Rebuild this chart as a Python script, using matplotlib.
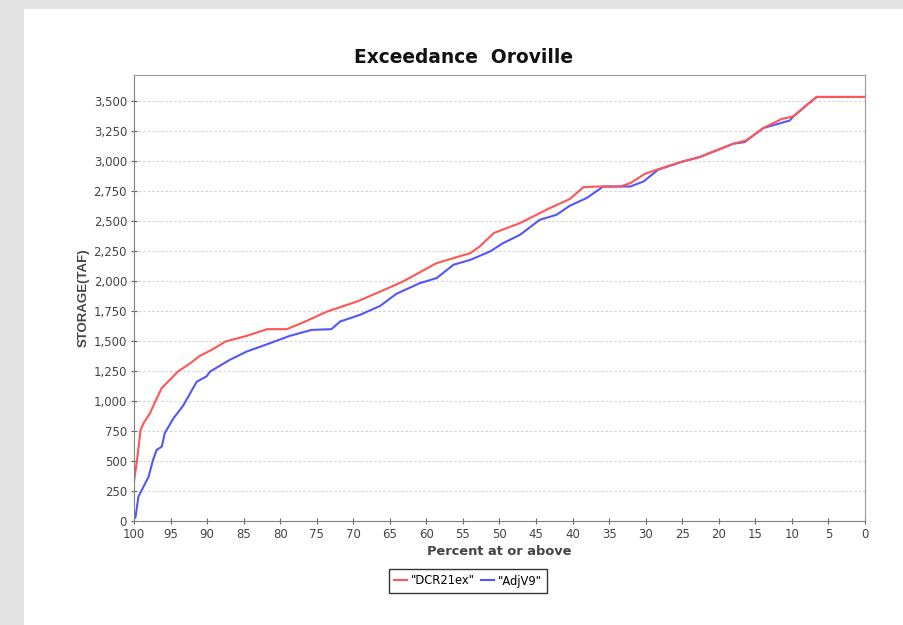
import matplotlib
matplotlib.use('Agg')
import matplotlib.pyplot as plt
from matplotlib.patches import Rectangle
from matplotlib.ticker import FuncFormatter

plt.rcParams['font.family'] = ['DejaVu Sans']

# Exceedance curves (percent at or above, storage TAF)
red_pct = [100, 99.6, 99.1, 98.7, 97.8, 97.1, 96.2, 95.1, 94.0, 92.3, 91.0, 89.2,
           87.5, 84.6, 81.8, 79.1, 76.9, 73.6, 69.5, 66.3, 63.2, 58.6, 54.0, 52.7,
           50.8, 47.2, 43.1, 40.4, 38.5, 36.3, 33.5, 32.1, 30.1, 28.5, 24.9, 22.6,
           18.0, 16.2, 13.9, 11.4, 9.8, 7.8, 6.6, 0]
red_val = [330, 500, 760, 815, 900, 996, 1110, 1177, 1246, 1316, 1377, 1433,
           1497, 1544, 1600, 1600, 1655, 1747, 1830, 1914, 1998, 2151, 2234, 2290,
           2401, 2485, 2610, 2685, 2785, 2790, 2790, 2818, 2896, 2930, 2999, 3036,
           3147, 3175, 3278, 3353, 3375, 3478, 3537, 3537]

blue_pct = [100, 99.8, 99.4, 98.7, 98.0, 97.4, 96.9, 96.2, 95.8, 94.6, 93.3, 91.9,
            91.4, 90.1, 89.6, 86.9, 84.6, 81.4, 78.7, 75.7, 73.0, 71.8, 69.1, 66.3,
            64.1, 60.9, 58.6, 56.3, 54.0, 51.3, 49.5, 47.2, 44.5, 42.2, 40.4, 38.1,
            35.8, 32.1, 30.3, 28.3, 24.9, 22.6, 18.0, 16.5, 13.9, 10.3, 9.8, 7.8,
            6.6, 0]
blue_val = [20, 30, 203, 286, 370, 509, 593, 620, 732, 857, 960, 1110,
            1163, 1205, 1246, 1344, 1413, 1483, 1544, 1594, 1600, 1664, 1719, 1795,
            1895, 1984, 2026, 2137, 2178, 2248, 2318, 2387, 2512, 2554, 2629, 2693,
            2790, 2790, 2832, 2930, 2999, 3036, 3147, 3160, 3278, 3340, 3375, 3478,
            3537, 3537]

fig = plt.figure(figsize=(9.04, 6.25), dpi=100)
fig.patch.set_facecolor('#e4e4e4')
fig.patches.append(Rectangle((24 / 904, 0), 1, (625 - 9) / 625,
                             transform=fig.transFigure, facecolor='white',
                             edgecolor='none', zorder=-1))

ax = fig.add_axes([134 / 904, 104 / 625, 731 / 904, 446 / 625])
ax.plot(blue_pct, blue_val, color='#5555ff', lw=1.5, label='"AdjV9"')
ax.plot(red_pct, red_val, color='#ff5555', lw=1.5, label='"DCR21ex"')

ax.set_xlim(100, 0)
ax.set_ylim(0, 3720)
ax.set_xticks(range(100, -1, -5))
ax.set_yticks(range(0, 3501, 250))
ax.yaxis.set_major_formatter(FuncFormatter(lambda v, _: f'{int(v):,}'))
ax.grid(axis='y', color='#d0d0d0', linestyle=(0, (2, 2)), lw=0.8)
ax.tick_params(labelsize=8.5, colors='#666666', labelcolor='#444444',
               direction='inout', length=4)
ax.tick_params(axis='x', pad=3)
ax.tick_params(axis='y', pad=3)
for s in ax.spines.values():
    s.set_color('#999999')
ax.spines['left'].set_color('#808080')
ax.spines['bottom'].set_color('#808080')

fig.text(464 / 904, 1 - 57.5 / 625, 'Exceedance  Oroville', fontsize=13.4,
         fontweight='bold', ha='center', va='center', color='#111111')
ax.set_xlabel('Percent at or above', fontsize=9.4, fontweight='bold', color='#444444', labelpad=3)
ax.set_ylabel('STORAGE(TAF)', fontsize=9.5, fontweight='bold', color='#444444',
              labelpad=3, family='Liberation Sans')

h, l = ax.get_legend_handles_labels()
leg = fig.legend(h[::-1], l[::-1], loc='center', bbox_to_anchor=(468 / 904, 1 - 581 / 625),
                 ncol=2, fontsize=8.3, frameon=True, fancybox=False, handlelength=1.1,
                 handletextpad=0.35, columnspacing=0.5, borderpad=0.5)
leg.get_frame().set_edgecolor('black')
leg.get_frame().set_linewidth(1.0)

fig.savefig('out.png', dpi=100)
